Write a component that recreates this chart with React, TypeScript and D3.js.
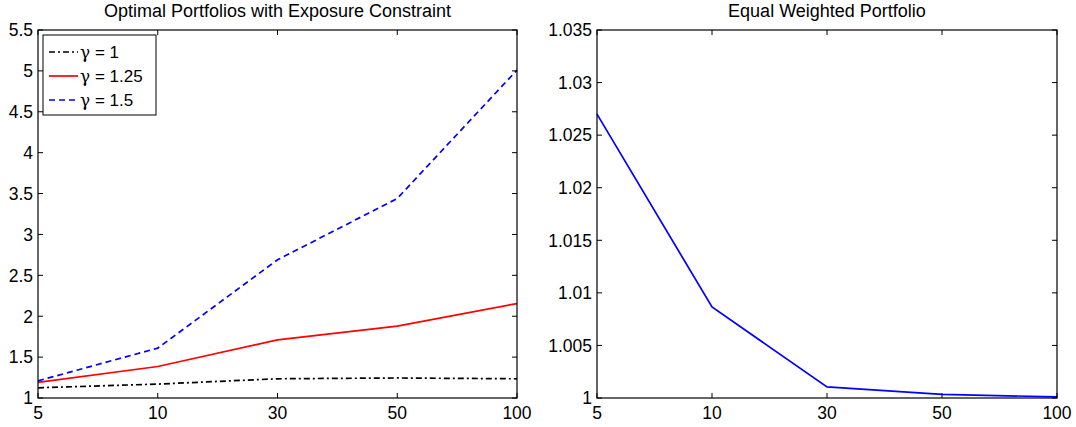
import React from "react";
import * as d3 from "d3";

const categories = ["5", "10", "30", "50", "100"];
const gamma1 = [1.125, 1.17, 1.235, 1.245, 1.235];
const gamma125 = [1.19, 1.385, 1.71, 1.88, 2.155];
const gamma15 = [1.21, 1.61, 2.69, 3.44, 5.01];
const equalWeighted = [1.027, 1.00866, 1.00105, 1.00035, 1.0001];
const leftTicks = [1, 1.5, 2, 2.5, 3, 3.5, 4, 4.5, 5, 5.5];
const rightTicks = [1, 1.005, 1.01, 1.015, 1.02, 1.025, 1.03, 1.035];
const gammaLabels = ["1", "1.25", "1.5"];

const FONT = "'Liberation Sans', Arial, Helvetica, sans-serif";

type Series = { name: string; values: number[]; color: string; dash: string };

function Panel({ x0, x1, y0, y1, domain, ticks, fmt, series, title, legend }: {
  x0: number; x1: number; y0: number; y1: number; domain: [number, number];
  ticks: number[]; fmt: (v: number) => string; series: Series[]; title: string; legend?: boolean;
}) {
  const x = d3.scalePoint<string>().domain(categories).range([x0, x1]);
  const y = d3.scaleLinear().domain(domain).range([y1, y0]);
  const tl = 5;
  return (
    <g>
      <text x={(x0 + x1) / 2} y={y0 - 13} textAnchor="middle" fontSize={18} fontFamily={FONT}>{title}</text>
      {series.map((s) => {
        const line = d3.line<number>().x((_, i) => x(categories[i])!).y((v) => y(v));
        return <path key={s.name} d={line(s.values)!} fill="none" stroke={s.color} strokeWidth={1.7} strokeDasharray={s.dash} />;
      })}
      <rect x={x0} y={y0} width={x1 - x0} height={y1 - y0} fill="none" stroke="#000" strokeWidth={1.2} />
      {ticks.map((t) => (
        <g key={t}>
          <line x1={x0} x2={x0 + tl} y1={y(t)} y2={y(t)} stroke="#000" />
          <line x1={x1} x2={x1 - tl} y1={y(t)} y2={y(t)} stroke="#000" />
          <text x={x0 - 5} y={y(t)} dy="0.36em" textAnchor="end" fontSize={17.5} fontFamily={FONT}>{fmt(t)}</text>
        </g>
      ))}
      {categories.map((c) => (
        <g key={c}>
          <line x1={x(c)} x2={x(c)} y1={y1} y2={y1 - tl} stroke="#000" />
          <line x1={x(c)} x2={x(c)} y1={y0} y2={y0 + tl} stroke="#000" />
          <text x={x(c)} y={y1 + 21} textAnchor="middle" fontSize={17.5} fontFamily={FONT}>{c}</text>
        </g>
      ))}
      {legend && (
        <g>
          <rect x={x0 + 5} y={y0 + 5} width={113} height={80} fill="#fff" stroke="#000" strokeWidth={1} />
          {series.map((s, i) => {
            const ly = y0 + 22 + i * 24;
            return (
              <g key={s.name}>
                <line x1={x0 + 11} x2={x0 + 40} y1={ly} y2={ly} stroke={s.color} strokeWidth={1.7} strokeDasharray={s.dash} />
                <text x={x0 + 42} y={ly} dy="0.36em" fontSize={17} fontFamily={FONT}>
                  <tspan fontFamily="'DejaVu Serif', serif" fontStyle="normal">γ</tspan>
                  <tspan>{" = " + s.name}</tspan>
                </text>
              </g>
            );
          })}
        </g>
      )}
    </g>
  );
}

export default function App() {
  const colors = ["#000", "#f00", "#00f"];
  const dashes = ["6,3,2,3", "", "6,4"];
  const gammaValues = [gamma1, gamma125, gamma15];
  const leftSeries: Series[] = gammaLabels.map((g, i) => ({
    name: g, values: gammaValues[i], color: colors[i], dash: dashes[i],
  }));
  const rightSeries: Series[] = [
    { name: "eq", values: equalWeighted, color: "#00f", dash: "" },
  ];
  return (
    <svg width={1076} height={427} style={{ position: "absolute", left: 0, top: 0, background: "#fff" }}>
      <Panel x0={38} x1={517} y0={30} y1={398} domain={[1, 5.5]} ticks={leftTicks}
        fmt={(v) => d3.format("")(v)} series={leftSeries} title="Optimal Portfolios with Exposure Constraint" legend />
      <Panel x0={597} x1={1057} y0={30} y1={398} domain={[1, 1.035]} ticks={rightTicks}
        fmt={(v) => String(+v.toFixed(3))} series={rightSeries} title="Equal Weighted Portfolio" />
    </svg>
  );
}
